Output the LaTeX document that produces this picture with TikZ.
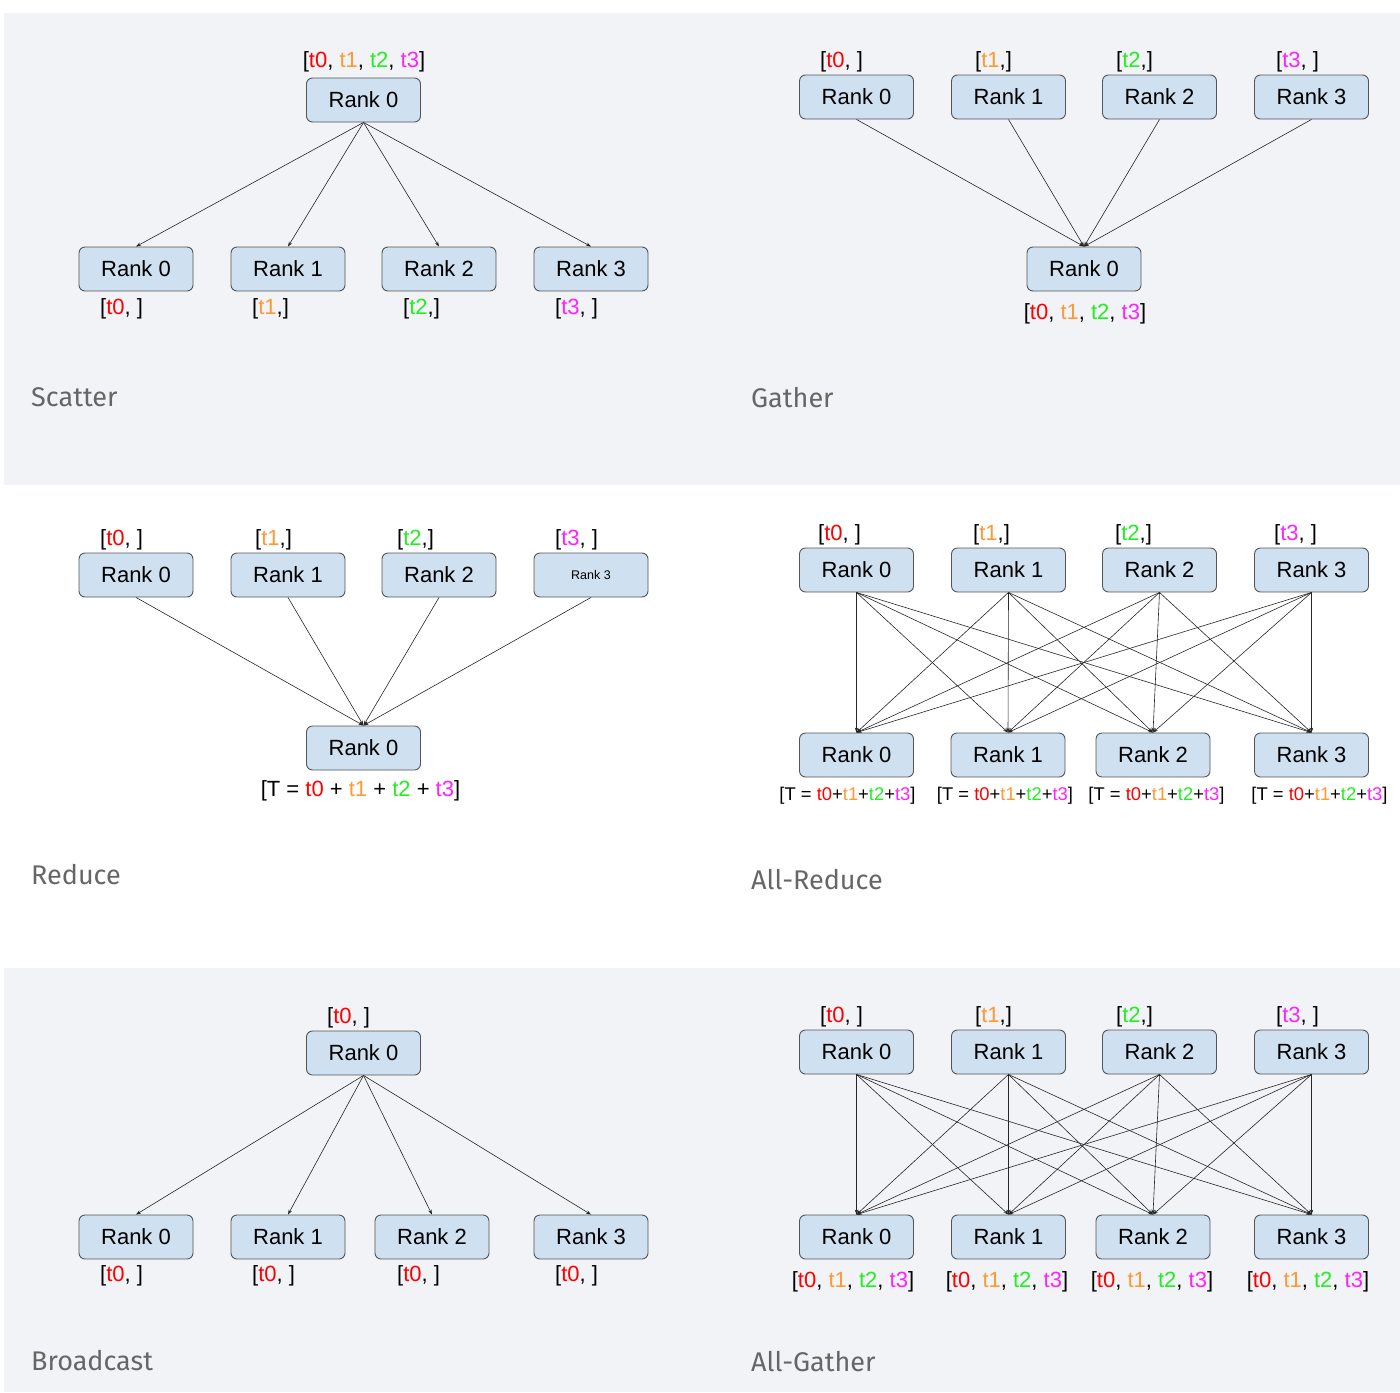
\documentclass[tikz,border=0pt]{standalone}
\usepackage{fontspec}
\setmainfont{Liberation Sans}
\newfontfamily\titlefont{Fira Sans}
\usetikzlibrary{arrows.meta}
\definecolor{bandbg}{HTML}{F2F3F7}
\definecolor{boxfill}{HTML}{CFE0F1}
\definecolor{boxline}{HTML}{555555}
\definecolor{titlegray}{HTML}{666666}
\definecolor{czero}{HTML}{FF0000}
\definecolor{cone}{HTML}{FF9933}
\definecolor{ctwo}{HTML}{22EE22}
\definecolor{cthree}{HTML}{FF22FF}
\newcommand{\tcz}{\textcolor{czero}{t0}}
\newcommand{\tco}{\textcolor{cone}{t1}}
\newcommand{\tct}{\textcolor{ctwo}{t2}}
\newcommand{\tch}{\textcolor{cthree}{t3}}
\begin{document}
\begin{tikzpicture}[x=1pt,y=-1pt,
  rbox/.style={draw=boxline,fill=boxfill,rounded corners=6pt,line width=0.9pt,
    minimum width=114pt,minimum height=44pt,inner sep=0pt,
    font=\fontsize{22}{26}\selectfont},
  lbl/.style={inner sep=0pt,font=\fontsize{22}{26}\selectfont},
  slbl/.style={inner sep=0pt,font=\fontsize{18.4}{22}\selectfont},
  ttl/.style={inner sep=0pt,anchor=west,text=titlegray,font=\titlefont\fontsize{27}{32}\selectfont},
  edge/.style={draw=black!85,line width=0.6pt,-{Stealth[length=5pt,width=3.5pt]}}
]
\useasboundingbox (0,0) rectangle (1400,1392);
\fill[bandbg] (4,13) rectangle (1400,485);
\fill[bandbg] (4,968) rectangle (1400,1392);

% ---------- Scatter ----------
\node[rbox] (st) at (363.5,100) {Rank 0};
\node[lbl] (stl) at (364,62) {[\tcz, \tco, \tct, \tch]};
\foreach \i/\x in {0/136,1/288,2/439,3/591}{
  \node[rbox] (sb\i) at (\x,269) {Rank \i};
}
\node[lbl,anchor=west] (sbl0) at (100,309) {[\tcz, ]};
\node[lbl,anchor=west] (sbl1) at (252,309) {[\tco,]};
\node[lbl,anchor=west] (sbl2) at (403,309) {[\tct,]};
\node[lbl,anchor=west] (sbl3) at (555,309) {[\tch, ]};
\foreach \i in {0,...,3}{ \draw[edge] (st.south) -- (sb\i.north); }
\node[ttl] (stitle) at (31,397) {Scatter};

% ---------- Gather ----------
\foreach \i/\x in {0/856.5,1/1008.5,2/1159.5,3/1311.5}{
  \node[rbox] (gt\i) at (\x,97) {Rank \i};
}
\node[lbl,anchor=west] (gtl0) at (820,62) {[\tcz, ]};
\node[lbl,anchor=west] (gtl1) at (975,62) {[\tco,]};
\node[lbl,anchor=west] (gtl2) at (1116,62) {[\tct,]};
\node[lbl,anchor=west] (gtl3) at (1276,62) {[\tch, ]};
\node[rbox] (gb) at (1084,269) {Rank 0};
\node[lbl] (gbl) at (1085,314) {[\tcz, \tco, \tct, \tch]};
\foreach \i in {0,...,3}{ \draw[edge] (gt\i.south) -- (gb.north); }
\node[ttl] (gtitle) at (751,398) {Gather};

% ---------- Reduce ----------
\node[rbox] (rt0) at (136,575) {Rank 0};
\node[rbox] (rt1) at (288,575) {Rank 1};
\node[rbox] (rt2) at (439,575) {Rank 2};
\node[rbox,font=\fontsize{12.5}{15}\selectfont] (rt3) at (591,575) {Rank 3};
\node[lbl,anchor=west] (rtl0) at (100,540) {[\tcz, ]};
\node[lbl,anchor=west] (rtl1) at (255,540) {[\tco,]};
\node[lbl,anchor=west] (rtl2) at (397,540) {[\tct,]};
\node[lbl,anchor=west] (rtl3) at (555,540) {[\tch, ]};
\node[rbox] (rb) at (363.5,748) {Rank 0};
\node[lbl] (rbl) at (360.5,791) {[T = \tcz{} + \tco{} + \tct{} + \tch]};
\foreach \i in {0,...,3}{ \draw[edge] (rt\i.south) -- (rb.north); }
\node[ttl] (rtitle) at (31,875) {Reduce};

% ---------- All-Reduce ----------
\foreach \i/\x in {0/856.5,1/1008.5,2/1159.5,3/1311.5}{
  \node[rbox] (art\i) at (\x,570) {Rank \i};
}
\node[lbl,anchor=west] (artl0) at (818,535) {[\tcz, ]};
\node[lbl,anchor=west] (artl1) at (973,535) {[\tco,]};
\node[lbl,anchor=west] (artl2) at (1115,535) {[\tct,]};
\node[lbl,anchor=west] (artl3) at (1274,535) {[\tch, ]};
\foreach \i/\x in {0/856.5,1/1008,2/1153,3/1311.5}{
  \node[rbox] (arb\i) at (\x,755) {Rank \i};
}
\foreach \i/\x in {0/847.5,1/1005,2/1156.5,3/1319.5}{
  \node[slbl] (arbl\i) at (\x,796) {[T = \tcz+\tco+\tct+\tch]};
}
\foreach \i in {0,...,3}{ \foreach \j in {0,...,3}{ \draw[edge] (art\i.south) -- (arb\j.north); } }
\node[ttl] (artitle) at (751,880) {All-Reduce};

% ---------- Broadcast ----------
\node[rbox] (bt) at (363.5,1053) {Rank 0};
\node[lbl,anchor=west] (btl) at (327,1018) {[\tcz, ]};
\foreach \i/\x in {0/136,1/288,2/432,3/591}{
  \node[rbox] (bb\i) at (\x,1237) {Rank \i};
}
\foreach \i/\x in {0/100,1/252,2/397,3/555}{
  \node[lbl,anchor=west] (bbl\i) at (\x,1276) {[\tcz, ]};
}
\foreach \i in {0,...,3}{ \draw[edge] (bt.south) -- (bb\i.north); }
\node[ttl] (btitle) at (31,1361) {Broadcast};

% ---------- All-Gather ----------
\foreach \i/\x in {0/856.5,1/1008.5,2/1159.5,3/1311.5}{
  \node[rbox] (agt\i) at (\x,1052) {Rank \i};
}
\node[lbl,anchor=west] (agtl0) at (820,1017) {[\tcz, ]};
\node[lbl,anchor=west] (agtl1) at (975,1017) {[\tco,]};
\node[lbl,anchor=west] (agtl2) at (1116,1017) {[\tct,]};
\node[lbl,anchor=west] (agtl3) at (1276,1017) {[\tch, ]};
\foreach \i/\x in {0/856.5,1/1008.5,2/1153,3/1311.5}{
  \node[rbox] (agb\i) at (\x,1237) {Rank \i};
}
\foreach \i/\x in {0/853,1/1007,2/1152,3/1308}{
  \node[lbl] (agbl\i) at (\x,1282) {[\tcz, \tco, \tct, \tch]};
}
\foreach \i in {0,...,3}{ \foreach \j in {0,...,3}{ \draw[edge] (agt\i.south) -- (agb\j.north); } }
\node[ttl] (agtitle) at (751,1362) {All-Gather};
\end{tikzpicture}
\end{document}
